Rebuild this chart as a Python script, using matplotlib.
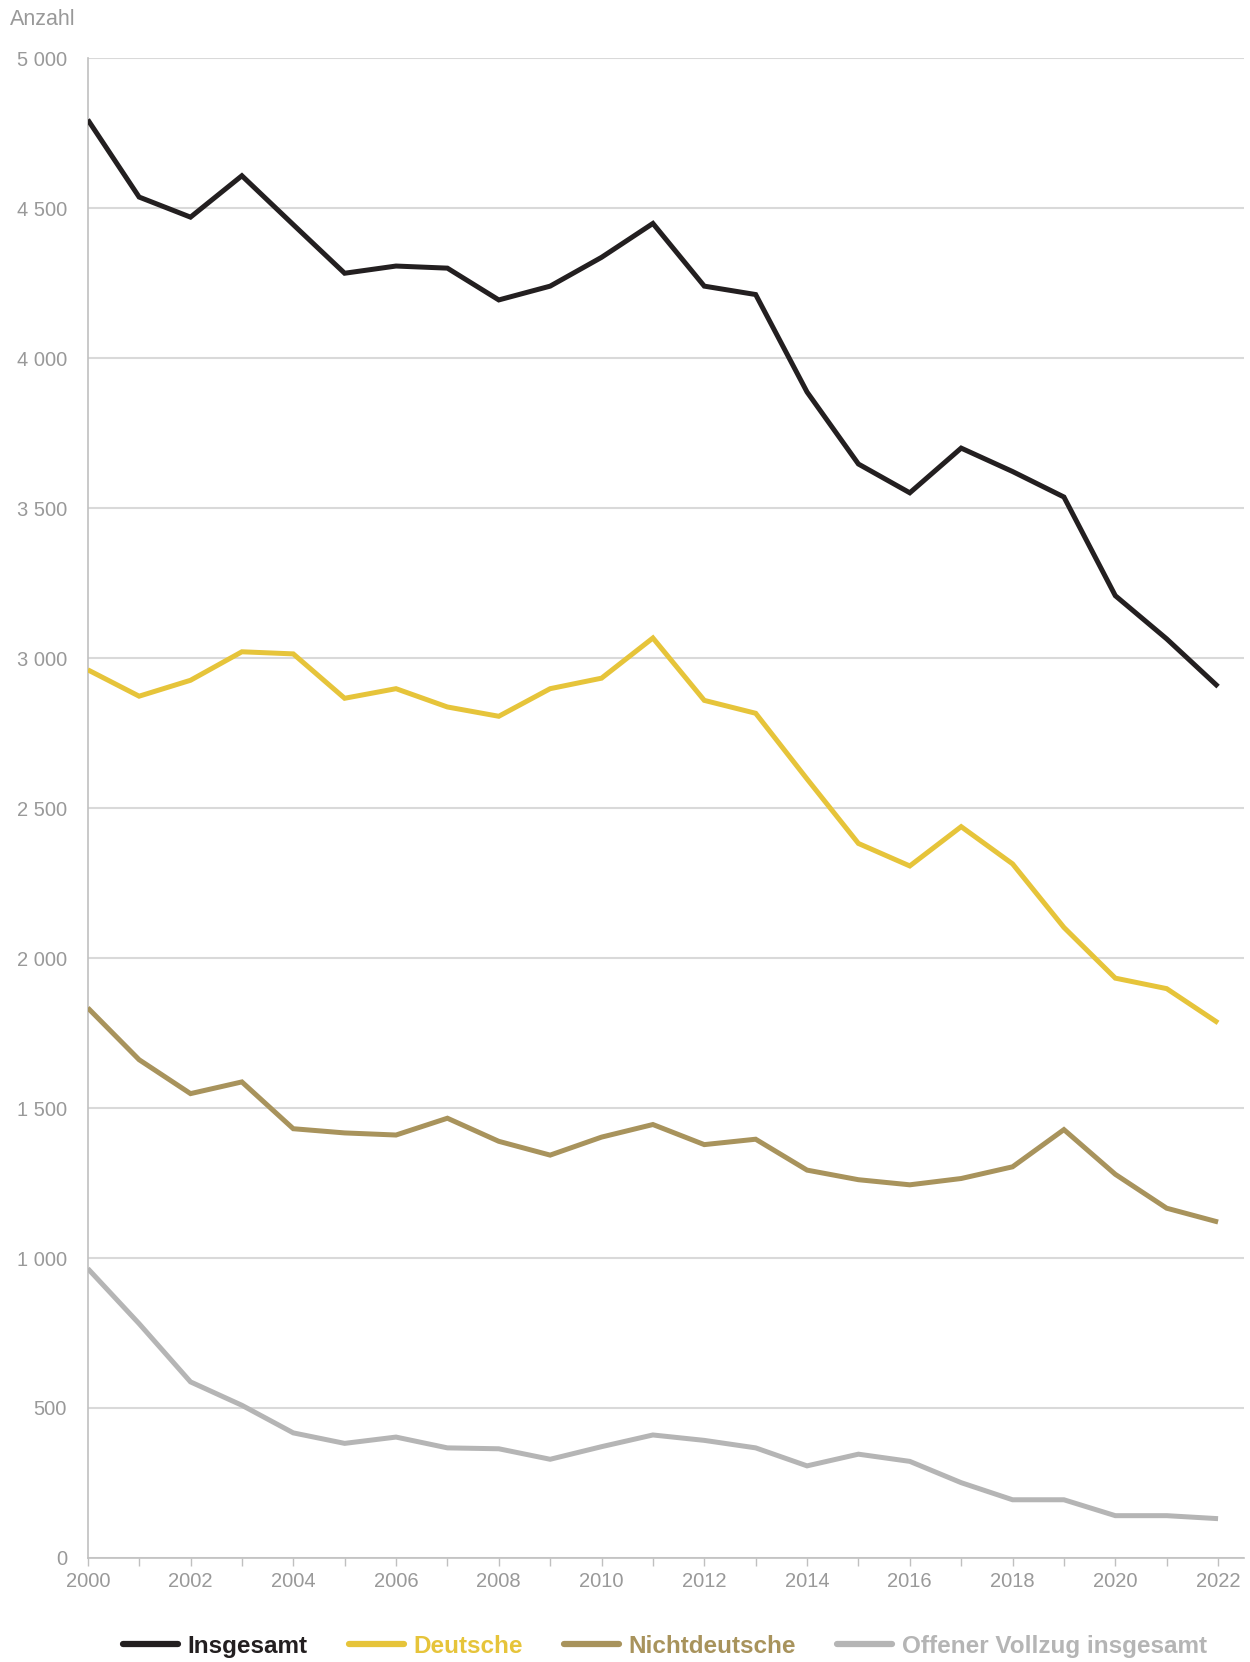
import matplotlib.pyplot as plt
from matplotlib.ticker import FuncFormatter, MultipleLocator

plt.rcParams['font.family'] = ['Liberation Sans', 'DejaVu Sans']

years = list(range(2000, 2023))
insgesamt = [4795, 4537, 4470, 4608, 4445, 4283, 4307, 4300, 4194, 4240, 4336, 4449,
             4240, 4212, 3887, 3647, 3551, 3700, 3622, 3537, 3208, 3064, 2905]
deutsche = [2961, 2873, 2926, 3021, 3014, 2866, 2898, 2837, 2806, 2898, 2933, 3067,
            2859, 2816, 2597, 2382, 2307, 2438, 2314, 2102, 1933, 1898, 1784]
nichtdeutsche = [1834, 1661, 1548, 1587, 1431, 1417, 1410, 1466, 1389, 1343, 1403, 1445,
                 1378, 1396, 1293, 1261, 1244, 1265, 1304, 1428, 1279, 1166, 1120]
offen = [965, 781, 587, 509, 417, 382, 403, 367, 364, 329, 371, 410,
         392, 367, 307, 346, 322, 251, 194, 194, 141, 141, 131]

series = [
    ("Insgesamt", insgesamt, "#231f20"),
    ("Deutsche", deutsche, "#e6c43a"),
    ("Nichtdeutsche", nichtdeutsche, "#a8935c"),
    ("Offener Vollzug insgesamt", offen, "#b5b5b5"),
]

grey = "#999999"

fig = plt.figure(figsize=(12.5, 16.62), dpi=100)
ax = fig.add_axes([0.0702, 0.0626, 0.9248, 0.9024])

for name, vals, col in series:
    ax.plot(years, vals, color=col, lw=3.6, label=name, solid_joinstyle='miter',
            solid_capstyle='butt', zorder=3)

ax.set_xlim(2000, 2022.5)
ax.set_ylim(0, 5000)

ax.yaxis.set_major_locator(MultipleLocator(500))
ax.yaxis.set_major_formatter(FuncFormatter(lambda v, p: f"{int(v):,}".replace(",", " ")))
ax.xaxis.set_major_locator(MultipleLocator(2))
ax.xaxis.set_minor_locator(MultipleLocator(1))

ax.grid(axis='y', color='#d9d9d9', lw=1.5, zorder=0)
ax.set_axisbelow(True)

for s in ['top', 'right']:
    ax.spines[s].set_visible(False)
for s in ['left', 'bottom']:
    ax.spines[s].set_color('#c0c0c0')
    ax.spines[s].set_linewidth(1.2)

ax.tick_params(axis='y', length=0, pad=15, labelsize=14.5, labelcolor=grey)
ax.tick_params(axis='x', which='both', length=6, color='#c0c0c0', width=1,
               labelsize=14.5, labelcolor=grey, pad=4)

fig.text(0.008, 0.9945, "Anzahl", fontsize=15.5, color=grey, va='top', ha='left')

leg = fig.legend(loc='center', bbox_to_anchor=(0.532, 0.0095), ncol=4, frameon=False,
                 handlelength=2.25, handletextpad=0.4, columnspacing=1.7,
                 prop={'weight': 'bold', 'size': 17.5})
for txt, (_, _, col) in zip(leg.get_texts(), series):
    txt.set_color(col)
for h in leg.get_lines():
    h.set_linewidth(4.5)
    h.set_solid_capstyle('round')

fig.savefig("out.png", dpi=100)
